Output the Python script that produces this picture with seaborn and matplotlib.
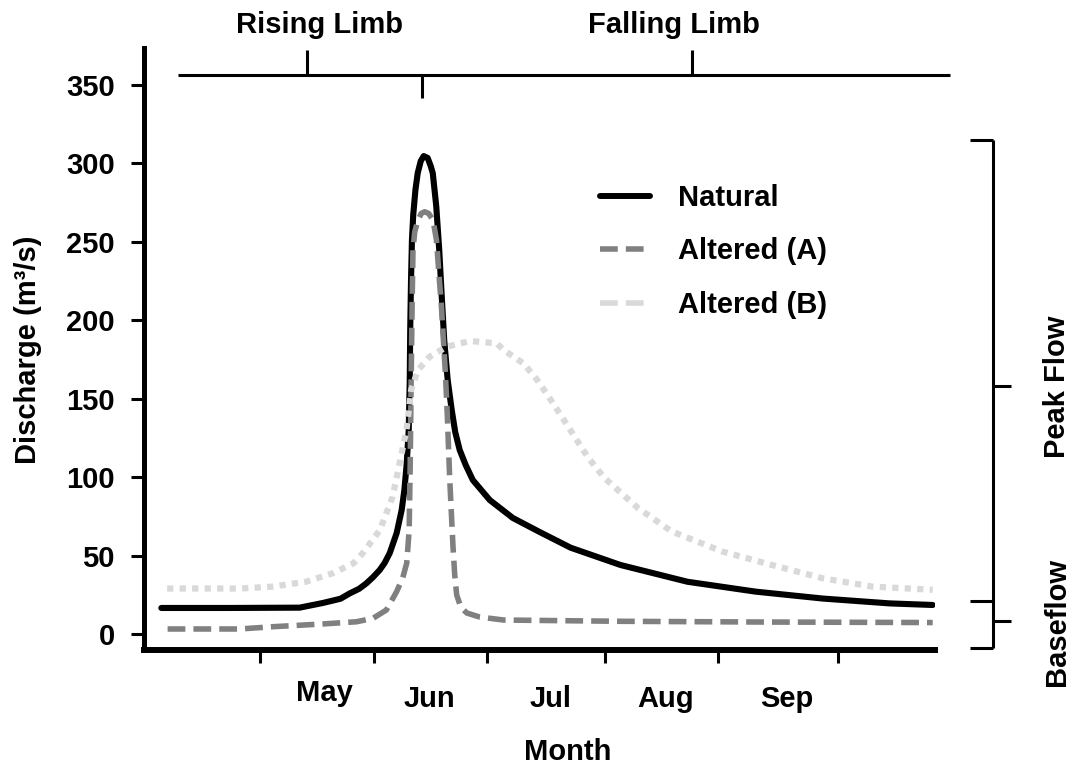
import matplotlib
matplotlib.use("Agg")
import matplotlib.pyplot as plt
import matplotlib.transforms as mtrans
import seaborn as sns
from matplotlib.lines import Line2D

# ---------------- data (x in fractional months: 5.0 = 1 May) ----------------
nat_x = [4.15, 4.74, 5.346, 5.548, 5.70, 5.779, 5.86, 5.923, 5.98, 6.038, 6.081,
         6.125, 6.185, 6.228, 6.252, 6.272, 6.289, 6.298, 6.302, 6.309, 6.317,
         6.328, 6.347, 6.367, 6.393, 6.419, 6.453, 6.479, 6.497, 6.527, 6.553,
         6.574, 6.596, 6.626, 6.661, 6.691, 6.730, 6.782, 6.843, 6.99, 7.189,
         7.422, 7.69, 8.12, 8.70, 9.29, 9.87, 10.45, 10.82]
nat_y = [16.6, 16.6, 16.8, 19.8, 22.5, 25.9, 28.8, 32.3, 36.2, 40.8, 45.3,
         51.6, 64.4, 79.0, 92.0, 109.0, 130.0, 162.0, 193.8, 225.7, 251.2,
         267.1, 283.1, 293.9, 301.5, 304.7, 303.5, 298.4, 293.9, 272.9, 244.8,
         216.1, 187.4, 162.0, 142.8, 128.8, 117.3, 107.7, 98.2, 85.4, 74.0,
         65.0, 55.0, 44.0, 33.3, 27.0, 22.6, 19.5, 18.5]

alt_a_x = [4.204, 4.827, 5.115, 5.545, 5.837, 5.98, 6.096, 6.183, 6.237, 6.272,
           6.293, 6.302, 6.311, 6.319, 6.326, 6.341, 6.369, 6.397, 6.427, 6.462,
           6.499, 6.529, 6.548, 6.572, 6.606, 6.622, 6.644, 6.672, 6.687, 6.704,
           6.739, 6.791, 6.903, 7.111, 8.123, 9.287, 10.82]
alt_a_y = [3.2, 3.2, 4.65, 6.4, 7.8, 10.0, 15.3, 26.8, 35.7, 45.3,
           66.3, 109.0, 166.4, 212.9, 244.8, 256.3, 263.9, 268.1, 269.2, 268.1,
           263.9, 251.2, 232.0, 208.7, 166.2, 140.9, 98.2, 55.7, 37.6, 24.9,
           17.2, 13.4, 10.8, 8.9, 8.1, 7.65, 7.3]

alt_b_x = [4.20, 4.83, 5.11, 5.40, 5.63, 5.81, 5.89, 6.04, 6.15, 6.21, 6.27, 6.31,
           6.37, 6.47, 6.62, 6.82, 7.05, 7.11, 7.28, 7.40, 7.54, 7.69, 7.84, 7.98,
           8.27, 8.56, 9.00, 9.43, 9.87, 10.30, 10.82]
alt_b_y = [29.0, 29.0, 30.2, 33.3, 38.7, 45.0, 51.4, 66.3, 87.5, 108.8, 130.0, 155.6,
           168.3, 176.8, 183.2, 186.8, 185.3, 181.0, 172.6, 162.0, 146.8, 129.6, 112.5,
           99.6, 80.4, 65.5, 52.6, 44.0, 35.5, 30.2, 28.2]

series_names = ["Natural", "Altered (A)", "Altered (B)"]
month_labels = ["May", "Jun", "Jul", "Aug", "Sep"]
month_label_pos = [5.56, 6.47, 7.52, 8.51, 9.56]
month_tick_pos = [5.0, 5.99, 6.97, 7.99, 8.96, 10.0]
y_ticks = [0, 50, 100, 150, 200, 250, 300, 350]

# ---------------- style ----------------
sns.set_style("white")
plt.rcParams["font.family"] = ["Liberation Sans", "DejaVu Sans"]
plt.rcParams["font.weight"] = "bold"
for k in ["text.color", "axes.labelcolor", "axes.edgecolor", "xtick.color", "ytick.color"]:
    plt.rcParams[k] = "black"
FS = 21

W, H = 1073, 767
fig = plt.figure(figsize=(W / 100, H / 100), dpi=100)
ax = fig.add_axes([144 / W, 1 - 650 / H, (935 - 144) / W, (650 - 48) / H])

C_NAT, C_A, C_B = "black", "#808080", "#d9d9d9"
DASH_A = (3.2, 1.45)
DOT_B = (1.0, 1.0)

sns.lineplot(x=nat_x, y=nat_y, ax=ax, color=C_NAT, linewidth=4.4,
             estimator=None, sort=False)
ax.lines[-1].set_solid_joinstyle("round")
sns.lineplot(x=alt_a_x, y=alt_a_y, ax=ax, color=C_A, linewidth=4.0,
             estimator=None, sort=False)
ax.lines[-1].set_dashes(DASH_A)
sns.lineplot(x=alt_b_x, y=alt_b_y, ax=ax, color=C_B, linewidth=4.5,
             estimator=None, sort=False)
ax.lines[-1].set_dashes(DOT_B)

ax.set_xlim(4.0, 10.84)
ax.set_ylim(-10.2, 373.6)

# spines
for s in ["top", "right"]:
    ax.spines[s].set_visible(False)
ax.spines["left"].set_linewidth(3.6)
ax.spines["bottom"].set_linewidth(4.3)

# ticks
ax.set_yticks(y_ticks)
ax.set_yticklabels([str(v) for v in y_ticks])
ax.tick_params(axis="y", direction="out", length=9.4, width=2.2, pad=11.5,
               labelsize=FS, left=True)
ax.set_xticks(month_tick_pos)
ax.set_xticklabels([])
ax.set_xticks(month_label_pos, minor=True)
ax.set_xticklabels(month_labels, minor=True)
ax.tick_params(axis="x", which="major", direction="out", length=9.4, width=2.2,
               bottom=True, labelbottom=False)
ax.tick_params(axis="x", which="minor", length=0, pad=25.5, labelsize=FS)
for lbl in ax.get_xticklabels(minor=True) + ax.get_yticklabels():
    lbl.set_fontweight("bold")
ax.set_xlabel("")
ax.set_ylabel("")
# the "May" label sits a little higher in the original
may = ax.get_xticklabels(minor=True)[0]
may.set_transform(may.get_transform() +
                  mtrans.ScaledTranslation(0, 6 / 100, fig.dpi_scale_trans))

# axis titles
fig.text(28 / W, 1 - 350 / H, "Discharge (m³/s)", rotation=90, ha="center",
         va="center", fontsize=FS, fontweight="bold")
fig.text(568 / W, 1 - 752 / H, "Month", ha="center", va="center",
         fontsize=FS, fontweight="bold")

# legend
handles = [
    Line2D([], [], color=C_NAT, lw=4.3),
    Line2D([], [], color=C_A, lw=4.0, dashes=DASH_A),
    Line2D([], [], color=C_B, lw=4.0, dashes=DASH_A),
]
ax.legend(handles, series_names, loc="upper left",
          bbox_to_anchor=((600 - 144) / 791, (650 - 184) / 602),
          frameon=False, handlelength=1.7, handletextpad=0.96,
          labelspacing=0.87, borderpad=0, borderaxespad=0,
          prop={"weight": "bold", "size": FS})

# ---------------- annotation brackets ----------------
BK = dict(color="black", lw=2.2, clip_on=False, solid_capstyle="butt")
TOP_Y = 356.5
ax.plot([4.29, 10.97], [TOP_Y, TOP_Y], **BK)
ax.plot([5.41, 5.41], [TOP_Y, 372.3], **BK)
ax.plot([6.40, 6.40], [TOP_Y, 341.7], **BK)
ax.plot([8.74, 8.74], [TOP_Y, 372.3], **BK)
fig.text(320 / W, 1 - 25 / H, "Rising Limb", ha="center", va="center",
         fontsize=FS, fontweight="bold")
fig.text(674 / W, 1 - 25 / H, "Falling Limb", ha="center", va="center",
         fontsize=FS, fontweight="bold")

RX = 11.34
ax.plot([RX, RX], [315, -9], **BK)
ax.plot([11.14, RX], [315, 315], **BK)
ax.plot([RX, 11.50], [158, 158], **BK)
ax.plot([11.14, RX], [21, 21], **BK)
ax.plot([RX, 11.50], [8.3, 8.3], **BK)
ax.plot([11.14, RX], [-9, -9], **BK)
fig.text(1057 / W, 1 - 387 / H, "Peak Flow", rotation=90, ha="center",
         va="center", fontsize=FS, fontweight="bold")
fig.text(1057 / W, 1 - 622 / H, "Baseflow", rotation=90, ha="center",
         va="center", fontsize=FS, fontweight="bold")

fig.savefig("out.png", dpi=100)
